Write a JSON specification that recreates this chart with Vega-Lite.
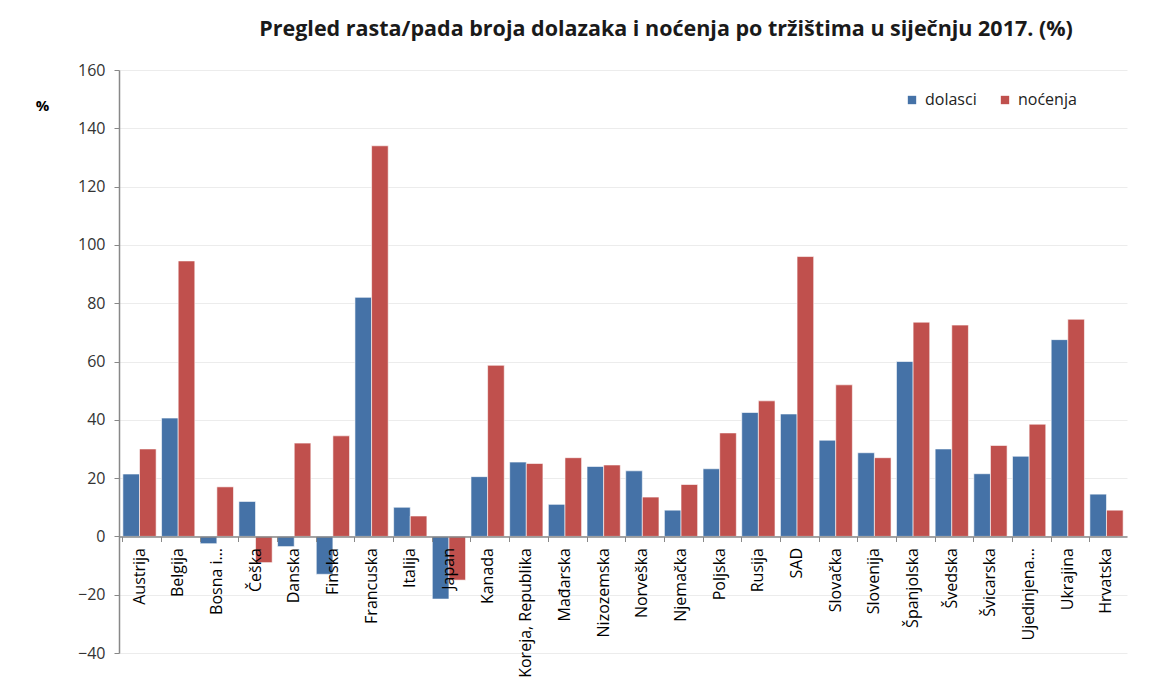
{
  "$schema": "https://vega.github.io/schema/vega-lite/v6.json",
  "autosize": "none",
  "width": 1008,
  "height": 583,
  "padding": {"left": 119, "top": 70, "right": 29, "bottom": 26},
  "background": "white",
  "title": {
    "text": "Pregled rasta/pada broja dolazaka i noćenja po tržištima u siječnju 2017. (%)",
    "anchor": "start",
    "dx": 224,
    "offset": 22,
    "font": "Open Sans",
    "fontSize": 21.5,
    "fontWeight": "bold",
    "color": "#1a1a1a"
  },
  "data": {
    "values": [
      {"country": "Austrija", "series": "dolasci", "value": 21.4},
      {"country": "Austrija", "series": "noćenja", "value": 30.0},
      {"country": "Belgija", "series": "dolasci", "value": 40.6},
      {"country": "Belgija", "series": "noćenja", "value": 94.5},
      {"country": "Bosna i…", "series": "dolasci", "value": -2.5},
      {"country": "Bosna i…", "series": "noćenja", "value": 17.0},
      {"country": "Češka", "series": "dolasci", "value": 12.0},
      {"country": "Češka", "series": "noćenja", "value": -9.0},
      {"country": "Danska", "series": "dolasci", "value": -3.5},
      {"country": "Danska", "series": "noćenja", "value": 32.0},
      {"country": "Finska", "series": "dolasci", "value": -13.0},
      {"country": "Finska", "series": "noćenja", "value": 34.5},
      {"country": "Francuska", "series": "dolasci", "value": 82.0},
      {"country": "Francuska", "series": "noćenja", "value": 134.0},
      {"country": "Italija", "series": "dolasci", "value": 10.0},
      {"country": "Italija", "series": "noćenja", "value": 7.0},
      {"country": "Japan", "series": "dolasci", "value": -21.5},
      {"country": "Japan", "series": "noćenja", "value": -15.0},
      {"country": "Kanada", "series": "dolasci", "value": 20.5},
      {"country": "Kanada", "series": "noćenja", "value": 58.7},
      {"country": "Koreja, Republika", "series": "dolasci", "value": 25.5},
      {"country": "Koreja, Republika", "series": "noćenja", "value": 25.0},
      {"country": "Mađarska", "series": "dolasci", "value": 11.0},
      {"country": "Mađarska", "series": "noćenja", "value": 27.0},
      {"country": "Nizozemska", "series": "dolasci", "value": 24.0},
      {"country": "Nizozemska", "series": "noćenja", "value": 24.5},
      {"country": "Norveška", "series": "dolasci", "value": 22.5},
      {"country": "Norveška", "series": "noćenja", "value": 13.5},
      {"country": "Njemačka", "series": "dolasci", "value": 9.0},
      {"country": "Njemačka", "series": "noćenja", "value": 17.8},
      {"country": "Poljska", "series": "dolasci", "value": 23.2},
      {"country": "Poljska", "series": "noćenja", "value": 35.5},
      {"country": "Rusija", "series": "dolasci", "value": 42.5},
      {"country": "Rusija", "series": "noćenja", "value": 46.5},
      {"country": "SAD", "series": "dolasci", "value": 42.0},
      {"country": "SAD", "series": "noćenja", "value": 96.0},
      {"country": "Slovačka", "series": "dolasci", "value": 33.0},
      {"country": "Slovačka", "series": "noćenja", "value": 52.0},
      {"country": "Slovenija", "series": "dolasci", "value": 28.7},
      {"country": "Slovenija", "series": "noćenja", "value": 27.0},
      {"country": "Španjolska", "series": "dolasci", "value": 60.0},
      {"country": "Španjolska", "series": "noćenja", "value": 73.5},
      {"country": "Švedska", "series": "dolasci", "value": 30.0},
      {"country": "Švedska", "series": "noćenja", "value": 72.5},
      {"country": "Švicarska", "series": "dolasci", "value": 21.5},
      {"country": "Švicarska", "series": "noćenja", "value": 31.2},
      {"country": "Ujedinjena…", "series": "dolasci", "value": 27.5},
      {"country": "Ujedinjena…", "series": "noćenja", "value": 38.5},
      {"country": "Ukrajina", "series": "dolasci", "value": 67.5},
      {"country": "Ukrajina", "series": "noćenja", "value": 74.5},
      {"country": "Hrvatska", "series": "dolasci", "value": 14.5},
      {"country": "Hrvatska", "series": "noćenja", "value": 9.0}
    ]
  },
  "mark": {"type": "bar", "stroke": "white", "strokeWidth": 0.6},
  "encoding": {
    "x": {
      "field": "country",
      "type": "nominal",
      "sort": null,
      "scale": {"paddingInner": 0.14, "paddingOuter": 0.1},
      "axis": {
        "title": null,
        "orient": "bottom",
        "offset": -116.5,
        "zindex": 1,
        "labelAngle": -90,
        "labelAlign": "right",
        "labelBaseline": "middle",
        "labelFont": "Open Sans",
        "labelFontSize": 16,
        "labelColor": "#000000",
        "labelPadding": 6,
        "bandPosition": 0,
        "tickSize": 5,
        "tickColor": "#888888",
        "domainColor": "#888888",
        "domainWidth": 1.5,
        "grid": false,
        "labelLimit": 200
      }
    },
    "xOffset": {"field": "series", "type": "nominal", "sort": ["dolasci", "noćenja"]},
    "y": {
      "field": "value",
      "type": "quantitative",
      "scale": {"domain": [-40, 160], "nice": false},
      "axis": {
        "values": [-40, -20, 0, 20, 40, 60, 80, 100, 120, 140, 160],
        "title": "%",
        "titleAngle": 0,
        "titleX": -77,
        "titleY": 43,
        "titleFont": "Open Sans",
        "titleFontSize": 15,
        "titleFontWeight": "bold",
        "titleColor": "#000000",
        "labelFont": "Open Sans",
        "labelFontSize": 16,
        "labelColor": "#333333",
        "labelPadding": 9,
        "tickSize": 5,
        "tickColor": "#888888",
        "domainColor": "#888888",
        "domainWidth": 1.5,
        "gridColor": "#ececec",
        "gridWidth": 1
      }
    },
    "color": {
      "field": "series",
      "type": "nominal",
      "scale": {"domain": ["dolasci", "noćenja"], "range": ["#4572A7", "#C0504D"]},
      "legend": {
        "title": null,
        "orient": "none",
        "direction": "horizontal",
        "legendX": 785,
        "legendY": 22,
        "symbolType": "square",
        "symbolSize": 70,
        "symbolStrokeWidth": 0,
        "labelFont": "Open Sans",
        "labelFontSize": 16,
        "labelColor": "#222222",
        "columnPadding": 20,
        "labelOffset": 5
      }
    }
  },
  "config": {
    "view": {"stroke": null}
  }
}
